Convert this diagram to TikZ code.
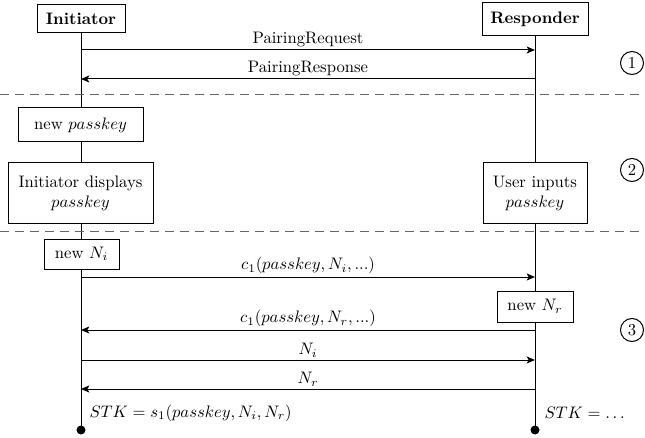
\documentclass[tikz,border=0pt]{standalone}
\usetikzlibrary{arrows.meta,backgrounds}
\begin{document}
\begin{tikzpicture}[x=0.6pt,y=-0.6pt,
  line width=0.6pt,
  box/.style={draw,fill=white,inner sep=0pt,align=center},
  msg/.style={-{Stealth[length=5pt,width=4.2pt,inset=1.2pt]}},
  lbl/.style={above,inner sep=1.5pt},
  sep/.style={draw=black!60,dash pattern=on 5.4pt off 3.6pt},
  num/.style={circle,draw,inner sep=0pt,minimum size=13.8pt},
  dot/.style={circle,fill,inner sep=0pt,minimum size=5.4pt}]
\useasboundingbox (0,0) rectangle (645,438);
% actors
\node[box,minimum width={88*0.6pt},minimum height={28*0.6pt}] (ini) at (81,19) {\textbf{Initiator}};
\node[box,minimum width={106*0.6pt},minimum height={33*0.6pt}] (res) at (535,19.5) {\textbf{Responder}};
% local actions
\node[box,minimum width={125*0.6pt},minimum height={34*0.6pt}] (newpk) at (80.5,125) {new $passkey$};
\node[box,minimum width={145*0.6pt},minimum height={60*0.6pt}] (idisp) at (80.5,193) {Initiator displays\\$passkey$};
\node[box,minimum width={104*0.6pt},minimum height={60*0.6pt}] (uinp) at (535,193) {User inputs\\$passkey$};
\node[box,minimum width={75*0.6pt},minimum height={30*0.6pt}] (newNi) at (81.5,254) {new $N_i$};
\node[box,minimum width={76*0.6pt},minimum height={31*0.6pt}] (newNr) at (535,306.5) {new $N_r$};
% end dots
\node[dot] (endI) at (81,430) {};
\node[dot] (endR) at (535,430) {};
% phase numbers
\node[num] (p1) at (632,63) {1};
\node[num] (p2) at (632,170) {2};
\node[num] (p3) at (632,330) {3};
% lifelines
\begin{scope}[on background layer]
\draw (ini.south) -- (endI.center);
\draw (res.south) -- (endR.center);
\end{scope}
% separators
\coordinate (s1a) at (0,95); \coordinate (s1b) at (645,95);
\coordinate (s2a) at (0,231); \coordinate (s2b) at (645,231);
\draw[sep] (s1a) -- (s1b);
\draw[sep] (s2a) -- (s2b);
% messages
\draw[msg] (ini |- 0,50) -- node[lbl] {PairingRequest} (res |- 0,50);
\draw[msg] (res |- 0,79) -- node[lbl] {PairingResponse} (ini |- 0,79);
\draw[msg] (ini |- 0,277) -- node[lbl] {$c_1(passkey, N_i, ...)$} (res |- 0,277);
\draw[msg] (res |- 0,330) -- node[lbl] {$c_1(passkey, N_r, ...)$} (ini |- 0,330);
\draw[msg] (ini |- 0,360) -- node[lbl] {$N_i$} (res |- 0,360);
\draw[msg] (res |- 0,389) -- node[lbl] {$N_r$} (ini |- 0,389);
% results
\node[anchor=west,inner sep=0pt] (stkI) at (89,413) {$STK = s_1(passkey, N_i, N_r)$};
\node[anchor=west,inner sep=0pt] (stkR) at (544,413) {$STK = \ldots$};
\end{tikzpicture}
\end{document}
